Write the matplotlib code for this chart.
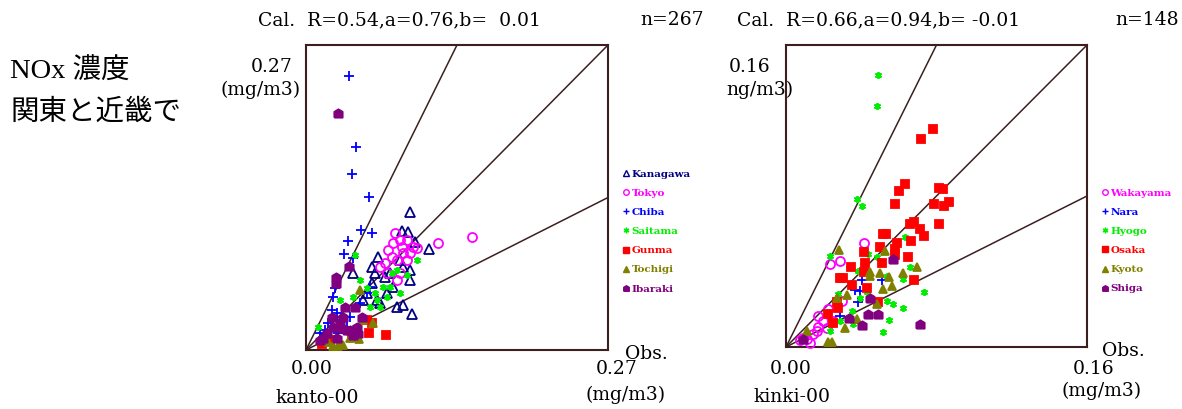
import numpy as np
import matplotlib.pyplot as plt
from matplotlib.lines import Line2D

# ---- kanto (left) ----
kanto_max = 0.27
kanto_names = ["Kanagawa", "Tokyo", "Chiba", "Saitama", "Gunma", "Tochigi", "Ibaraki"]
kanagawa_x = [0.0929, 0.0854, 0.0914, 0.0973, 0.1101, 0.0646, 0.0586, 0.0423, 0.0929, 0.0706, 0.0869, 0.081, 0.0869,
              0.0944, 0.0542, 0.0661, 0.0586, 0.0631, 0.072, 0.078, 0.084, 0.0512, 0.0616, 0.075, 0.0929]
kanagawa_y = [0.1225, 0.1056, 0.1048, 0.0959, 0.0891, 0.082, 0.0738, 0.0679, 0.062, 0.0643, 0.0738, 0.0384, 0.0398,
              0.0316, 0.0502, 0.0413, 0.059, 0.0443, 0.0502, 0.0561, 0.0797, 0.0443, 0.0679, 0.0679, 0.0708]
tokyo_x = [0.0795, 0.084, 0.0899, 0.0959, 0.0735, 0.0765, 0.0869, 0.0929, 0.1182, 0.148, 0.0706, 0.081, 0.0661, 0.084,
           0.081, 0.072, 0.0988, 0.0899, 0.078, 0.0854]
tokyo_y = [0.1033, 0.0974, 0.0974, 0.0915, 0.0885, 0.0826, 0.0856, 0.0856, 0.0944, 0.0997, 0.0767, 0.0797, 0.0738,
           0.0679, 0.062, 0.0679, 0.09, 0.0797, 0.0944, 0.0915]
chiba_x = [0.0384, 0.0444, 0.0414, 0.056, 0.0488, 0.0586, 0.0372, 0.0342, 0.0423, 0.0259, 0.0244, 0.0229, 0.0274,
           0.0319, 0.0393, 0.0199, 0.0289, 0.0125, 0.0542, 0.0482, 0.0572, 0.017, 0.0363]
chiba_y = [0.2429, 0.180, 0.1555, 0.1357, 0.1062, 0.1039, 0.0962, 0.085, 0.0812, 0.0546, 0.0472, 0.0354, 0.0325,
           0.0266, 0.0295, 0.0236, 0.0148, 0.0148, 0.0502, 0.0413, 0.0561, 0.0177, 0.0207]
saitama_x = [0.0438, 0.0423, 0.0482, 0.0542, 0.0631, 0.072, 0.075, 0.0899, 0.0988, 0.081, 0.011, 0.0661, 0.0572,
             0.084, 0.0691, 0.0304, 0.0765, 0.0616]
saitama_y = [0.0841, 0.0472, 0.062, 0.0546, 0.0443, 0.0472, 0.0561, 0.0664, 0.0797, 0.0708, 0.0207, 0.0384, 0.0384,
             0.0502, 0.0561, 0.0443, 0.0679, 0.0502]
gunma_x = [0.0566, 0.0712, 0.0143, 0.0408, 0.0586, 0.0542, 0.0214]
gunma_y = [0.0148, 0.0133, 0.0053, 0.0118, 0.0236, 0.0266, 0.0089]
tochigi_x = [0.0482, 0.0244, 0.0289, 0.0333, 0.0393, 0.0476, 0.0601, 0.0199, 0.0304, 0.0512, 0.0423]
tochigi_y = [0.0531, 0.0035, 0.0035, 0.0044, 0.0103, 0.0094, 0.0236, 0.0074, 0.0074, 0.0266, 0.0177]
ibaraki_x = [0.0283, 0.0268, 0.0268, 0.0387, 0.0333, 0.0438, 0.0304, 0.0244, 0.0185, 0.0393, 0.0453, 0.0497,
             0.0155, 0.0274, 0.0423, 0.0348, 0.0229, 0.0125, 0.0363, 0.0467, 0.0319]
ibaraki_y = [0.2101, 0.0649, 0.059, 0.0744, 0.0295, 0.0384, 0.0236, 0.0207, 0.0148, 0.0177, 0.0207, 0.0295,
             0.0103, 0.0103, 0.0133, 0.0384, 0.0295, 0.0089, 0.0177, 0.0148, 0.0192]

# ---- kinki (right) ----
kinki_max = 0.16
kinki_names = ["Wakayama", "Nara", "Hyogo", "Osaka", "Kyoto", "Shiga"]
wakayama_x = [0.0412, 0.0287, 0.0234, 0.0225, 0.0172, 0.0172, 0.0145, 0.0092, 0.0128, 0.011, 0.0199, 0.0252,
              0.0296, 0.0075, 0.0216, 0.0163]
wakayama_y = [0.0549, 0.0457, 0.0439, 0.020, 0.0165, 0.0106, 0.0067, 0.005, 0.0023, 0.0041, 0.0138, 0.0138,
              0.0245, 0.0035, 0.0103, 0.0085]
nara_x = [0.0403, 0.0509, 0.0367, 0.0394, 0.0385, 0.0287]
nara_y = [0.0354, 0.0354, 0.0301, 0.0298, 0.0236, 0.0165]
hyogo_x = [0.0491, 0.0483, 0.0376, 0.0403, 0.0234, 0.0438, 0.0483, 0.0633, 0.0536, 0.066, 0.0624, 0.0731, 0.0624,
           0.0545, 0.0518, 0.0385, 0.0349, 0.0279, 0.0536, 0.0571, 0.0234, 0.0358, 0.0287, 0.0394, 0.0429]
hyogo_y = [0.1441, 0.1276, 0.0785, 0.0746, 0.0484, 0.0493, 0.0478, 0.0585, 0.0377, 0.0422, 0.036, 0.0289, 0.0204,
           0.0142, 0.008, 0.0404, 0.0191, 0.028, 0.0245, 0.0227, 0.0085, 0.012, 0.0138, 0.0262, 0.0289]
osaka_x = [0.0779, 0.0718, 0.063, 0.0603, 0.058, 0.0814, 0.0834, 0.0788, 0.0841, 0.0867, 0.066, 0.0683, 0.071,
           0.0736, 0.0814, 0.0514, 0.0532, 0.05, 0.0589, 0.058, 0.0665, 0.0648, 0.0412, 0.0509, 0.058, 0.0344,
           0.042, 0.0412, 0.0287, 0.0305, 0.0683, 0.0429, 0.0491, 0.027, 0.0225, 0.0349, 0.0279, 0.0252]
osaka_y = [0.1157, 0.1104, 0.0861, 0.0826, 0.0758, 0.0843, 0.0835, 0.0758, 0.0746, 0.0767, 0.0652, 0.0661, 0.0626,
           0.059, 0.0652, 0.0599, 0.0599, 0.0532, 0.0549, 0.0519, 0.0564, 0.0478, 0.0505, 0.0443, 0.0487, 0.0425,
           0.0443, 0.0395, 0.0363, 0.0363, 0.0354, 0.0312, 0.0241, 0.0241, 0.0174, 0.0328, 0.0209, 0.0129]
kyoto_x = [0.0284, 0.0527, 0.0695, 0.0621, 0.05, 0.0447, 0.0545, 0.0518, 0.0562, 0.0323, 0.0225, 0.0243, 0.011,
           0.0314, 0.0376, 0.027, 0.0483, 0.0447]
kyoto_y = [0.0514, 0.0507, 0.0425, 0.039, 0.039, 0.0395, 0.0372, 0.0307, 0.0324, 0.0276, 0.0027, 0.0027, 0.0085,
           0.0099, 0.0147, 0.0262, 0.0227, 0.0377]
shiga_x = [0.0571, 0.0447, 0.0438, 0.0491, 0.0403, 0.071, 0.0337, 0.0092]
shiga_y = [0.0466, 0.0262, 0.0174, 0.0174, 0.0115, 0.0124, 0.0156, 0.0041]

house = [(-1, -1), (1, -1), (1, 0.4), (0, 1), (-1, 0.4), (-1, -1)]
styles = {
    "Kanagawa": dict(marker="^", color="#000080", fill=False, ms=6.5),
    "Tokyo": dict(marker="o", color="#ff00ff", fill=False, ms=6.5),
    "Chiba": dict(marker="+", color="#0000ff", fill=True, ms=7),
    "Saitama": dict(marker=(6, 2, 0), color="#00ee00", fill=True, ms=5),
    "Gunma": dict(marker="s", color="#ff0000", fill=True, ms=5.5),
    "Tochigi": dict(marker="^", color="#808000", fill=True, ms=5.5),
    "Ibaraki": dict(marker=house, color="#800080", fill=True, ms=6),
}
styles["Wakayama"] = styles["Tokyo"]
styles["Nara"] = styles["Chiba"]
styles["Hyogo"] = styles["Saitama"]
styles["Osaka"] = styles["Gunma"]
styles["Kyoto"] = styles["Tochigi"]
styles["Shiga"] = styles["Ibaraki"]

kanto_data = [(kanagawa_x, kanagawa_y), (tokyo_x, tokyo_y), (chiba_x, chiba_y), (saitama_x, saitama_y),
              (gunma_x, gunma_y), (tochigi_x, tochigi_y), (ibaraki_x, ibaraki_y)]
kinki_data = [(wakayama_x, wakayama_y), (nara_x, nara_y), (hyogo_x, hyogo_y), (osaka_x, osaka_y),
              (kyoto_x, kyoto_y), (shiga_x, shiga_y)]

W, H = 1182, 409
fig = plt.figure(figsize=(W / 100, H / 100), dpi=100)
serif = "DejaVu Serif"
line_col = "#3c2020"


def fx(px):
    return px / W


def fy(py):
    return 1 - py / H


def panel(rect, vmax, names, data, leg_pos):
    ax = fig.add_axes(rect)
    ax.set_xlim(0, vmax)
    ax.set_ylim(0, vmax)
    ax.set_xticks([])
    ax.set_yticks([])
    for sp in ax.spines.values():
        sp.set_color(line_col)
        sp.set_linewidth(1.5)
    # 1:2, 1:1, 2:1 lines
    for k in [2, 1, 0.5]:
        xe = min(vmax, vmax / k)
        ax.plot([0, xe], [0, k * xe], color=line_col, lw=1.1, zorder=1)
    handles = []
    for name, (xs, ys) in zip(names, data):
        st = styles[name]
        face = st["color"] if st["fill"] else "none"
        ax.plot(xs, ys, ls="none", marker=st["marker"], ms=st["ms"], mfc=face, mec=st["color"],
                mew=1.3, zorder=3, clip_on=False)
        handles.append(Line2D([], [], ls="none", marker=st["marker"], ms=4, mfc=face,
                              mec=st["color"], mew=1.0, label=name))
    fig.legend(handles=handles, loc="upper left", bbox_to_anchor=leg_pos, frameon=False,
               prop={"family": serif, "size": 7.5, "weight": "bold"}, handlelength=0.6,
               handletextpad=0.2, labelspacing=0.95, borderpad=0,
               labelcolor=[styles[n]["color"] for n in names])
    return ax


panel([fx(306), fy(350), fx(302), 305 / H], kanto_max, kanto_names, kanto_data, (fx(618), fy(164)))
panel([fx(786), fy(347), fx(301), 302 / H], kinki_max, kinki_names, kinki_data, (fx(1097), fy(183)))

fs = 13.5
# titles
fig.text(fx(258), fy(20), "Cal.  R=0.54,a=0.76,b=  0.01", family=serif, size=fs, va="center")
fig.text(fx(704), fy(20), "n=267", family=serif, size=fs, va="center", ha="right")
fig.text(fx(737), fy(20), "Cal.  R=0.66,a=0.94,b= -0.01", family=serif, size=fs, va="center")
fig.text(fx(1179), fy(20), "n=148", family=serif, size=fs, va="center", ha="right")

# y-axis annotations
fig.text(fx(272), fy(67), "0.27", family=serif, size=fs, ha="center", va="center")
fig.text(fx(261), fy(90), "(mg/m3)", family=serif, size=fs, ha="center", va="center")
fig.text(fx(750), fy(67), "0.16", family=serif, size=fs, ha="center", va="center")
fig.text(fx(760), fy(90), "ng/m3)", family=serif, size=fs, ha="center", va="center")

# x-axis annotations
for cx, lab in [(312, "0.00"), (617, "0.27"), (791, "0.00"), (1094, "0.16")]:
    fig.text(fx(cx), fy(369), lab, family=serif, size=fs, ha="center", va="center")
fig.text(fx(646), fy(354), "Obs.", family=serif, size=fs, ha="center", va="center")
fig.text(fx(1123), fy(351), "Obs.", family=serif, size=fs, ha="center", va="center")
fig.text(fx(626), fy(395), "(mg/m3)", family=serif, size=fs, ha="center", va="center")
fig.text(fx(1102), fy(391), "(mg/m3)", family=serif, size=fs, ha="center", va="center")
fig.text(fx(276), fy(398), "kanto-00", family=serif, size=fs, ha="left", va="center")
fig.text(fx(754), fy(397), "kinki-00", family=serif, size=fs, ha="left", va="center")

# side note
jp = ["Liberation Serif", "Noto Sans CJK JP"]
fig.text(fx(10), fy(72), "NOx 濃度", family=jp, size=20.5, va="center")
fig.text(fx(10), fy(112), "関東と近畿で", family=jp, size=20.5, va="center")

fig.savefig("out.png", dpi=100)
